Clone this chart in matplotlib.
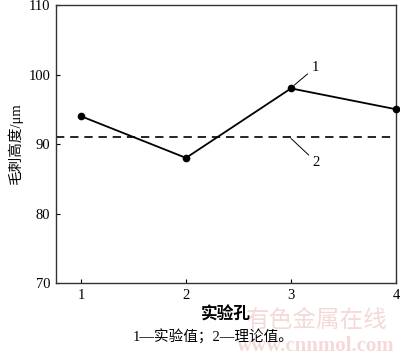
import matplotlib

matplotlib.use("Agg")
import matplotlib.pyplot as plt

plt.rcParams["font.family"] = ["Liberation Serif", "Noto Sans CJK SC"]

# data
holes = [1, 2, 3, 4]
burr_measured = [94, 88, 98, 95]
burr_theory = 91
x_ticks = [1, 2, 3, 4]
y_ticks = [70, 80, 90, 100, 110]

fig = plt.figure(figsize=(4.0, 3.55), dpi=100)
ax = fig.add_axes([0.14, 0.2028, 0.85, 0.7831])

ax.plot(holes, burr_measured, color="black", lw=1.3, marker="o", ms=4.5,
        clip_on=False, zorder=3)
ax.axhline(burr_theory, color="black", lw=1.2, ls=(0, (5, 3.5)))

ax.set_xlim(0.762, 4)
ax.set_ylim(70, 110)
ax.set_xticks(x_ticks)
ax.set_yticks(y_ticks)
ax.tick_params(direction="in", length=3, width=0.8, labelsize=10.5, pad=4)
for s in ax.spines.values():
    s.set_linewidth(1.0)
    s.set_color("#333333")

# leader lines for curve labels
ax.annotate("1", xy=(3.01, 98.2), xytext=(3.23, 101.0), fontsize=10.5,
            ha="center", va="center",
            arrowprops=dict(arrowstyle="-", lw=0.7, color="black",
                            shrinkA=1, shrinkB=2))
ax.annotate("2", xy=(3.0, 90.8), xytext=(3.24, 87.4), fontsize=10.5,
            ha="center", va="center",
            arrowprops=dict(arrowstyle="-", lw=0.7, color="black",
                            shrinkA=1, shrinkB=0))

ax.set_ylabel("毛刺高度/μm", fontsize=10.5, labelpad=4)
fig.text(0.565, 0.11, "实验孔", fontsize=12, fontweight="bold",
         ha="center", va="center")
fig.text(0.533, 0.05, "1—实验值；2—理论值。", fontsize=10.5,
         ha="center", va="center")

# faint watermark
fig.text(0.79, 0.095, "有色金属在线", fontsize=17, color="#f2c9c9",
         ha="center", va="center", alpha=0.7, zorder=0)
fig.text(0.79, 0.025, "www.cnnmol.com", fontsize=15, color="#f2c9c9",
         fontweight="bold", ha="center", va="center", alpha=0.7, zorder=0)

fig.savefig("out.png", dpi=100, facecolor="white")
